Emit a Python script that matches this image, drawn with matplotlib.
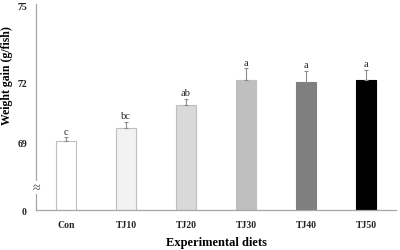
import matplotlib
matplotlib.use("Agg")
import matplotlib.pyplot as plt

categories = ["Con", "TJ10", "TJ20", "TJ30", "TJ40", "TJ50"]
values = [69.05, 69.71, 70.86, 72.12, 71.98, 72.12]
errors = [0.20, 0.31, 0.32, 0.56, 0.59, 0.48]
letters = ["c", "bc", "ab", "a", "a", "a"]
colors = ["#ffffff", "#f2f2f2", "#d9d9d9", "#bfbfbf", "#7f7f7f", "#000000"]
edgecolors = ["#bfbfbf", "#bfbfbf", "#bfbfbf", "#bfbfbf", "#7f7f7f", "#000000"]
ytick_labels = ["0", "69", "72", "75"]

plt.rcParams['font.family'] = ['Liberation Serif', 'DejaVu Serif']

fig = plt.figure(figsize=(4.0, 2.51), dpi=100)
ax = fig.add_axes([0.09, 0.159, 0.90, 0.821])

ymin, ymax = 65.63, 75.88
x = list(range(len(categories)))
ax.bar(x, values, width=0.33, color=colors, edgecolor=edgecolors, linewidth=0.8, zorder=2)
ax.errorbar(x, values, yerr=[[0]*len(errors), errors], fmt='none', ecolor='#8c8c8c',
            elinewidth=0.8, capsize=1.5, capthick=0.8, zorder=3)
for xi, v, e, l in zip(x, values, errors, letters):
    ax.text(xi, v + e + 0.08, l, ha='center', va='bottom', fontsize=7.5, color='#222222')

ax.set_xlim(-0.5, 5.5)
ax.set_ylim(ymin, ymax)
ax.set_xticks(x)
ax.set_xticklabels(categories, fontweight='bold', fontsize=7)
ax.set_yticks([ymin, 69, 72, 75.83])
ax.set_yticklabels(ytick_labels, fontweight='bold', fontsize=7)
ax.tick_params(length=0, pad=7, colors='#222222')
ax.tick_params(axis='y', pad=6.5)
for s in ['top', 'right']:
    ax.spines[s].set_visible(False)
for s in ['left', 'bottom']:
    ax.spines[s].set_color('#a6a6a6')
    ax.spines[s].set_linewidth(0.9)

ax.set_xlabel("Experimental diets", fontweight='bold', fontsize=9, labelpad=5)
ax.set_ylabel("Weight gain (g/fish)", fontweight='bold', fontsize=8.5)
ax.yaxis.set_label_coords(-0.064, 0.66)

# axis break mark
ax.text(-0.5, 66.75, "\u2248", ha='center', va='center', fontsize=10, color='#444444',
        zorder=5, clip_on=False,
        bbox=dict(facecolor='white', edgecolor='none', pad=0.2))

fig.savefig("out.png", dpi=100)
